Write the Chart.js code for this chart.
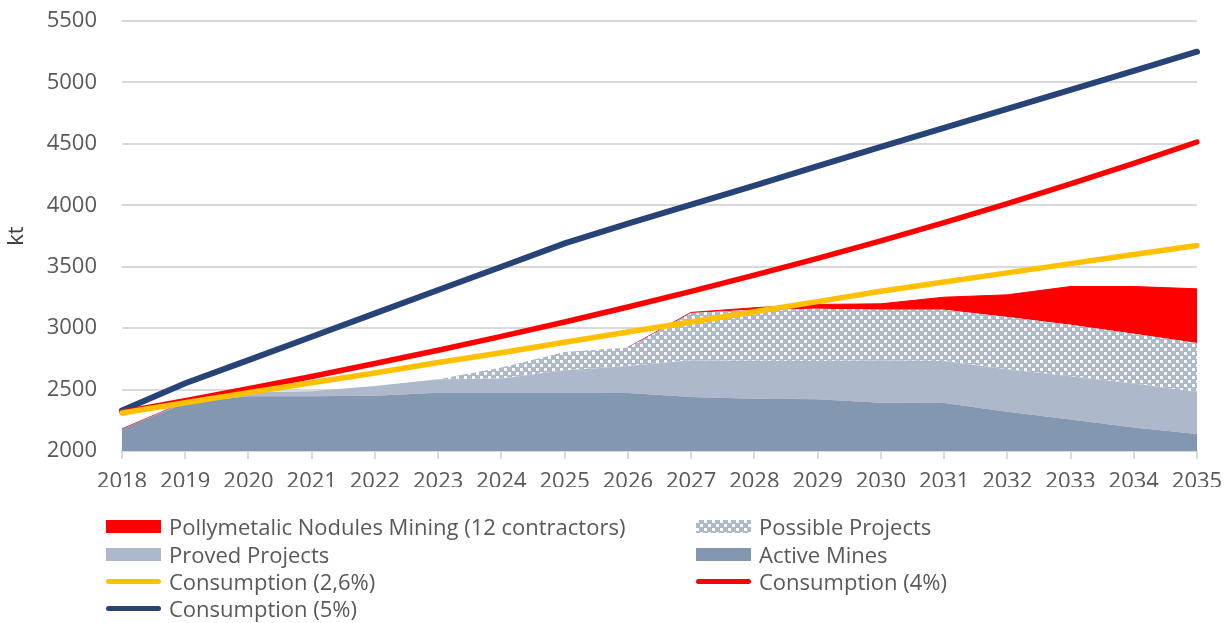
<!DOCTYPE html>
<html>
<head>
<meta charset="utf-8">
<script src="https://cdn.jsdelivr.net/npm/chart.js@4"></script>
<style>
  html, body { margin: 0; padding: 0; background: #fff; }
  #wrap { position: relative; width: 1228px; height: 623px; overflow: hidden; }
  #legend { position: absolute; left: 0; top: 0; width: 1228px; height: 623px; pointer-events: none;
            font-family: "Open Sans", sans-serif; font-size: 22px; color: #595959; }
  .item { position: absolute; height: 28px; display: flex; align-items: center; white-space: nowrap; }
  .sw { width: 55px; margin-right: 8px; flex: none; }
  .box { height: 13px; }
  .ln { height: 5px; border-radius: 3px; }
</style>
</head>
<body>
<div id="wrap">
  <canvas id="c" width="1228" height="623"></canvas>
  <div id="legend"></div>
</div>
<script>
const years = ["2018","2019","2020","2021","2022","2023","2024","2025","2026","2027","2028","2029","2030","2031","2032","2033","2034","2035"];

const activeMines     = [2180, 2390, 2445, 2445, 2450, 2475, 2475, 2475, 2473, 2440, 2425, 2422, 2392, 2390, 2320, 2257, 2192, 2138];
const provedProjects  = [0, 10, 36, 42, 80, 110, 115, 182, 219, 299, 310, 311, 347, 343, 345, 352, 358, 343];
const possibleProjects= [0, 0, 0, 0, 0, 0, 90, 149, 150, 384, 415, 425, 411, 417, 425, 419, 405, 398];
const nodulesMining   = [0, 0, 0, 0, 0, 0, 0, 0, 0, 5, 16, 35, 48, 102, 181, 311, 384, 441];

const consumption26 = [2310, 2392, 2475, 2555, 2635, 2720, 2800, 2885, 2968, 3050, 3133, 3216, 3300, 3375, 3450, 3525, 3600, 3672];
const consumption4  = [2315, 2410, 2507, 2607, 2712, 2820, 2933, 3050, 3172, 3299, 3431, 3568, 3711, 3859, 4014, 4174, 4341, 4515];
const consumption5  = [2330, 2552, 2740, 2930, 3120, 3310, 3500, 3690, 3850, 4005, 4160, 4318, 4476, 4630, 4785, 4940, 5095, 5250];

const yTicks = { min: 2000, max: 5500, step: 500 };

const C_ACTIVE = '#8497b0', C_PROVED = '#adb9ca', C_RED = '#ff0000', C_YELLOW = '#ffc000', C_BLUE = '#264478';
const FONT = '"Open Sans", sans-serif';

// pattern for Possible Projects: grey with small white squares
const pc = document.createElement('canvas');
pc.width = 8; pc.height = 8;
const pctx = pc.getContext('2d');
pctx.fillStyle = C_PROVED; pctx.fillRect(0, 0, 8, 8);
pctx.fillStyle = '#ffffff'; pctx.fillRect(0, 0, 3, 3); pctx.fillRect(4, 4, 3, 3);
const ctx = document.getElementById('c').getContext('2d');
const pattern = ctx.createPattern(pc, 'repeat');

const area = (label, data, color, fill) => ({
  label, data, type: 'line', stack: 'prod', order: 2,
  backgroundColor: color, borderWidth: 0, borderColor: 'transparent',
  pointRadius: 0, pointHoverRadius: 0, fill, tension: 0
});
const line = (label, data, color, stack, w) => ({
  label, data, type: 'line', stack, order: 1,
  borderColor: color, backgroundColor: color, borderWidth: w, borderCapStyle: 'round',
  pointRadius: 0, pointHoverRadius: 0, fill: false, tension: 0
});

const nod = area('Pollymetalic Nodules Mining (12 contractors)', nodulesMining, C_RED, '-1');
nod.borderWidth = 1;
nod.borderColor = C_RED;
nod.segment = { borderColor: c => (c.p0DataIndex === 0 || c.p0DataIndex >= 8) ? C_RED : 'rgba(0,0,0,0)' };

const chart = new Chart(ctx, {
  type: 'line',
  data: {
    labels: years,
    datasets: [
      area('Active Mines', activeMines, C_ACTIVE, 'start'),
      area('Proved Projects', provedProjects, C_PROVED, '-1'),
      area('Possible Projects', possibleProjects, pattern, '-1'),
      nod,
      line('Consumption (2,6%)', consumption26, C_YELLOW, 'c26', 5.5),
      line('Consumption (4%)', consumption4, C_RED, 'c4', 5.5),
      line('Consumption (5%)', consumption5, C_BLUE, 'c5', 6)
    ]
  },
  options: {
    responsive: false,
    devicePixelRatio: 1,
    animation: false,
    layout: { padding: { left: 0, right: 0, top: 0, bottom: 136 } },
    plugins: { legend: { display: false }, tooltip: { enabled: false } },
    scales: {
      x: {
        offset: false,
        grid: { display: true, drawOnChartArea: false, drawTicks: true, tickLength: 8, color: '#d9d9d9', lineWidth: 2 },
        border: { display: true, color: '#d9d9d9', width: 2 },
        ticks: { color: '#595959', font: { family: FONT, size: 22 }, padding: 10, maxRotation: 0, autoSkip: false },
        afterFit: s => { s.height = 36; s.paddingLeft = 0; s.paddingRight = 31; }
      },
      y: {
        stacked: true,
        min: yTicks.min, max: yTicks.max,
        grid: { color: '#d9d9d9', lineWidth: 2, drawTicks: false },
        border: { display: false },
        ticks: { stepSize: yTicks.step, color: '#595959', font: { family: FONT, size: 22 }, padding: 25,
                 callback: v => String(v) },
        title: { display: true, text: 'kt', color: '#404040', font: { family: FONT, size: 22 }, padding: { top: 4, bottom: 4 } },
        afterFit: s => { s.width = 122; s.paddingTop = 21; s.paddingBottom = 0; }
      }
    }
  }
});

// HTML legend built from datasets
const legendItems = [
  { ds: 3, kind: 'box', col: 0, row: 0 },
  { ds: 2, kind: 'pattern', col: 1, row: 0 },
  { ds: 1, kind: 'box', col: 0, row: 1 },
  { ds: 0, kind: 'box', col: 1, row: 1 },
  { ds: 4, kind: 'line', col: 0, row: 2 },
  { ds: 5, kind: 'line', col: 1, row: 2 },
  { ds: 6, kind: 'line', col: 0, row: 3 }
];
const colX = [106, 696];
const rowY = [512, 540, 567, 594];
const leg = document.getElementById('legend');
legendItems.forEach(it => {
  const ds = chart.data.datasets[it.ds];
  const d = document.createElement('div');
  d.className = 'item';
  d.style.left = colX[it.col] + 'px';
  d.style.top = rowY[it.row] + 'px';
  const sw = document.createElement('div');
  if (it.kind === 'line') {
    sw.className = 'sw ln';
    sw.style.background = ds.borderColor;
  } else if (it.kind === 'pattern') {
    sw.className = 'sw box';
    sw.style.background = 'url(' + pc.toDataURL() + ') repeat';
  } else {
    sw.className = 'sw box';
    sw.style.background = ds.backgroundColor;
  }
  const t = document.createElement('span');
  t.textContent = ds.label;
  d.appendChild(sw); d.appendChild(t);
  leg.appendChild(d);
});
</script>
</body>
</html>
